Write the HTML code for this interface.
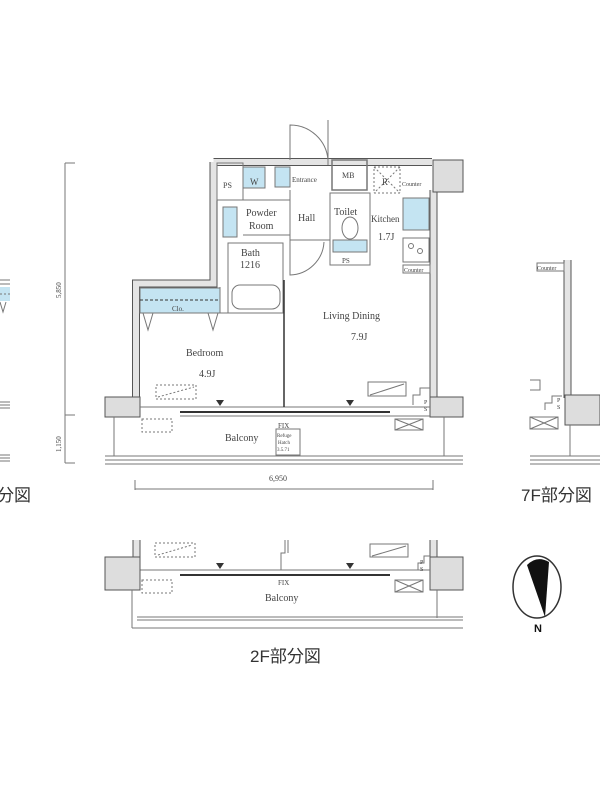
<!DOCTYPE html>
<html><head><meta charset="utf-8"><style>
html,body{margin:0;padding:0;background:#fff;width:600px;height:800px;overflow:hidden}
svg{display:block}
text{font-family:"Liberation Serif",serif;fill:#444}
.j{font-family:"Liberation Sans","Noto Sans CJK JP",sans-serif;fill:#333}
</style></head><body>
<svg width="600" height="800" viewBox="0 0 600 800" xmlns="http://www.w3.org/2000/svg">
<g fill="none" stroke="#777" stroke-width="1">
<!-- left partial -->
<rect x="0" y="287" width="10" height="14" fill="#c4e4f2" stroke="none"/>
<line x1="0" y1="280" x2="10" y2="280"/><line x1="0" y1="284" x2="10" y2="284"/>
<line x1="0" y1="294" x2="10" y2="294" stroke-dasharray="2,2"/>
<path d="M0 302 L3 312 L6 302"/>
<line x1="0" y1="402" x2="10" y2="402"/><line x1="0" y1="405" x2="10" y2="405"/><line x1="0" y1="408" x2="10" y2="408"/>
<line x1="0" y1="455" x2="10" y2="455"/><line x1="0" y1="458" x2="10" y2="458"/><line x1="0" y1="461" x2="10" y2="461"/>

<!-- vertical dimension -->
<line x1="65" y1="163" x2="65" y2="463"/>
<line x1="65" y1="163" x2="75" y2="163"/><line x1="65" y1="415" x2="75" y2="415"/><line x1="65" y1="463" x2="75" y2="463"/>
<!-- horizontal dimension -->
<line x1="135" y1="489" x2="433" y2="489"/>
<line x1="135" y1="480" x2="135" y2="490"/><line x1="433" y1="480" x2="433" y2="490"/>
</g>

<!-- main plan outer walls (double line) -->
<g fill="none" stroke-linejoin="miter">
<path d="M213.5 162 H432 M213.5 162 V283.5 H136 V398 M433.5 190 V398" stroke="#555" stroke-width="8"/>
<path d="M213.5 162 H432 M213.5 162 V283.5 H136 V398 M433.5 190 V398" stroke="#e4e4e4" stroke-width="6"/>
</g>
<g fill="none" stroke="#777" stroke-width="1">
<rect x="433" y="160" width="30" height="32" fill="#ddd" stroke="#555"/>
<rect x="105" y="397" width="35" height="20" fill="#ddd" stroke="#555"/>
<rect x="430" y="397" width="33" height="20" fill="#ddd" stroke="#555"/>
<line x1="140" y1="407" x2="430" y2="407"/>
<line x1="180" y1="412" x2="390" y2="412" stroke="#333" stroke-width="2"/>
<line x1="180" y1="416" x2="430" y2="416"/>
<!-- balcony -->
<line x1="114" y1="417" x2="114" y2="456"/>
<line x1="444" y1="417" x2="444" y2="456"/>
<line x1="105" y1="456" x2="463" y2="456"/><line x1="105" y1="460" x2="463" y2="460"/><line x1="105" y1="464" x2="463" y2="464"/>
<rect x="142" y="419" width="30" height="13" stroke-dasharray="2,2"/>
<rect x="395" y="419" width="28" height="11"/><path d="M395 419 L423 430 M395 430 L423 419"/>
<rect x="276" y="429" width="24" height="26"/>

<!-- interior -->
<rect x="217" y="163" width="26" height="37"/>
<rect x="243" y="167" width="22" height="21" fill="#c4e4f2"/>
<rect x="275" y="167" width="15" height="20" fill="#c4e4f2"/>
<rect x="332" y="160" width="35" height="30" stroke-width="1.5"/>
<rect x="374" y="167" width="26" height="26" stroke-dasharray="2,2"/>
<path d="M374 167 L400 193 M400 167 L374 193" stroke-dasharray="2,2"/>
<line x1="243" y1="200" x2="290" y2="200"/>
<rect x="223" y="207" width="14" height="30" fill="#c4e4f2"/>
<line x1="243" y1="235" x2="290" y2="235"/>
<line x1="290" y1="190" x2="290" y2="240"/>
<line x1="290" y1="240" x2="330" y2="240"/>
<rect x="330" y="193" width="40" height="72"/>
<rect x="333" y="240" width="34" height="12" fill="#c4e4f2"/>
<ellipse cx="350" cy="228" rx="8" ry="11"/>
<rect x="403" y="198" width="26" height="32" fill="#c4e4f2"/>
<rect x="403" y="238" width="26" height="24"/>
<circle cx="411" cy="246" r="2.5"/><circle cx="420" cy="251" r="2.5"/>
<rect x="403" y="265" width="27" height="8"/>
<rect x="228" y="243" width="55" height="70"/>
<rect x="232" y="285" width="48" height="24" rx="8"/>
<rect x="140" y="288" width="80" height="25" fill="#c4e4f2"/>
<line x1="140" y1="300" x2="220" y2="300" stroke-dasharray="3,2" stroke="#333"/>
<path d="M143 313 L148 330 L153 313 M208 313 L213 330 L218 313"/>
<path d="M220 287 V313 H283"/>
<path d="M284 280 V407" stroke="#333" stroke-width="1.5"/>
<rect x="156" y="385" width="40" height="14" stroke-dasharray="2,2"/>
<path d="M158 397 L194 387" stroke-dasharray="2,2"/>
<rect x="368" y="382" width="38" height="14"/><path d="M370 395 L404 384"/>
<path d="M413 405 V395 H420 V388 H430"/>
<!-- door arcs -->
<path d="M290 160 V125 A38 38 0 0 1 328 160"/>
<line x1="328" y1="120" x2="328" y2="165"/>
<path d="M290 240 V275 A35 35 0 0 0 324 242"/>
</g>
<polygon points="216,400 224,400 220,406" fill="#333"/>
<polygon points="346,400 354,400 350,406" fill="#333"/>

<g font-size="10">
<text x="223" y="188" font-size="8">PS</text>
<text x="250" y="185" font-size="9">W</text>
<text x="292" y="182" font-size="7">Entrance</text>
<text x="342" y="178" font-size="8">MB</text>
<text x="382" y="185" font-size="9">R</text>
<text x="402" y="186" font-size="6">Counter</text>
<text x="246" y="216">Powder</text>
<text x="249" y="229">Room</text>
<text x="298" y="221">Hall</text>
<text x="334" y="215">Toilet</text>
<text x="371" y="222" font-size="9">Kitchen</text>
<text x="378" y="240">1.7J</text>
<text x="342" y="263" font-size="7">PS</text>
<text x="404" y="272" font-size="6">Counter</text>
<text x="241" y="256">Bath</text>
<text x="240" y="268">1216</text>
<text x="172" y="311" font-size="7">Clo.</text>
<text x="186" y="356">Bedroom</text>
<text x="199" y="377">4.9J</text>
<text x="323" y="319">Living Dining</text>
<text x="351" y="340">7.9J</text>
<text x="424" y="404" font-size="6">P</text><text x="424" y="411" font-size="6">S</text>
<text x="278" y="428" font-size="7">FIX</text>
<text x="277" y="437" font-size="5">Refuge</text>
<text x="278" y="444" font-size="5">Hatch</text>
<text x="277" y="451" font-size="5">3.5.71</text>
<text x="225" y="441">Balcony</text>
<text x="269" y="481" font-size="8">6,950</text>
<text transform="translate(61,298) rotate(-90)" font-size="7">5,850</text>
<text transform="translate(61,452) rotate(-90)" font-size="7">1,150</text>
</g>

<!-- right partial 7F -->
<g fill="none" stroke="#777">
<path d="M567.5 260 V398" stroke="#555" stroke-width="8"/>
<path d="M567.5 260 V398" stroke="#e4e4e4" stroke-width="6"/>
<rect x="537" y="263" width="27" height="8"/>
<rect x="565" y="395" width="35" height="30" fill="#ddd" stroke="#555"/>
<path d="M530 380 H540 V390 H530" />
<path d="M545 410 V403 H552 V396 H562"/>
<rect x="530" y="417" width="28" height="12"/><path d="M530 417 L558 429 M530 429 L558 417"/>
<line x1="570" y1="425" x2="570" y2="456"/>
<line x1="530" y1="456" x2="600" y2="456"/><line x1="530" y1="460" x2="600" y2="460"/><line x1="530" y1="464" x2="600" y2="464"/>
</g>
<text x="537" y="270" font-size="6">Counter</text>
<text x="557" y="402" font-size="6">P</text><text x="557" y="409" font-size="6">S</text>
<text class="j" x="-3" y="501" font-size="17">分図</text>
<text class="j" x="521" y="501" font-size="17">7F部分図</text>

<!-- 2F partial -->
<g fill="none" stroke="#777">
<path d="M136.5 540 V558 M433.5 540 V558" stroke="#555" stroke-width="8"/>
<path d="M136.5 540 V558 M433.5 540 V558" stroke="#e4e4e4" stroke-width="6"/>
<path d="M140 558 V570 H180"/>
<rect x="105" y="557" width="35" height="33" fill="#ddd" stroke="#555"/>
<rect x="430" y="557" width="33" height="33" fill="#ddd" stroke="#555"/>
<rect x="155" y="543" width="40" height="14" stroke-dasharray="2,2"/>
<path d="M158 555 L192 545" stroke-dasharray="2,2"/>
<rect x="370" y="544" width="38" height="13"/><path d="M372 556 L406 546"/>
<path d="M285 540 V553 H281 V570 M288 540 V553"/>
<path d="M418 570 V563 H424 V556 H430"/>
<line x1="180" y1="570" x2="390" y2="570"/>
<line x1="180" y1="575" x2="390" y2="575" stroke="#333" stroke-width="2"/>
<line x1="390" y1="570" x2="430" y2="570"/>
<rect x="142" y="580" width="30" height="13" stroke-dasharray="2,2"/>
<rect x="395" y="580" width="28" height="12"/><path d="M395 580 L423 592 M395 592 L423 580"/>
<line x1="132" y1="590" x2="132" y2="628"/>
<line x1="437" y1="590" x2="437" y2="618"/>
<line x1="137" y1="617" x2="463" y2="617"/><line x1="137" y1="620" x2="463" y2="620"/>
<line x1="132" y1="628" x2="463" y2="628"/>
</g>
<polygon points="216,563 224,563 220,569" fill="#333"/>
<polygon points="346,563 354,563 350,569" fill="#333"/>
<text x="278" y="585" font-size="7">FIX</text>
<text x="265" y="601" font-size="10">Balcony</text>
<text x="420" y="564" font-size="6">P</text><text x="420" y="571" font-size="6">S</text>
<text class="j" x="250" y="662" font-size="17">2F部分図</text>

<!-- compass -->
<ellipse cx="537" cy="587" rx="24" ry="31" fill="none" stroke="#333" stroke-width="1.5"/>
<path d="M527 565 Q537 555 549 562 L545 617 Z" fill="#111"/>
<text class="j" x="534" y="632" font-size="11" font-weight="bold" style="fill:#111">N</text>
</svg>
</body></html>
